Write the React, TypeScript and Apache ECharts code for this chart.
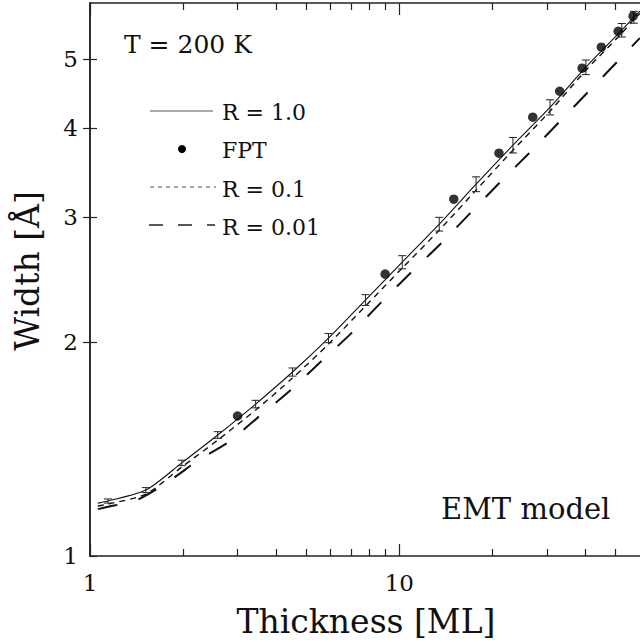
import React, { useEffect, useRef } from "react";
import * as echarts from "echarts";

// R = 1.0 model curve (thickness in ML, width in Å)
const thicknessR1 = [1.06, 1.143, 1.516, 1.98, 2.588, 3.432, 4.516, 5.902, 7.77, 10.22, 13.46, 17.71, 23.3, 30.7, 40.1, 52.4, 57.3, 60];
const widthR1 = [1.187, 1.195, 1.238, 1.352, 1.48, 1.636, 1.815, 2.026, 2.292, 2.591, 2.931, 3.336, 3.786, 4.28, 4.873, 5.494, 5.73, 5.843];
// R = 0.1 model curve
const thicknessR01 = [1.06, 1.143, 1.516, 1.98, 2.588, 3.432, 4.516, 5.902, 7.77, 10.22, 13.46, 17.71, 23.3, 30.7, 40.1, 52.4, 57.3, 60];
const widthR01 = [1.176, 1.183, 1.222, 1.334, 1.456, 1.605, 1.78, 1.987, 2.247, 2.542, 2.874, 3.272, 3.724, 4.225, 4.825, 5.44, 5.69, 5.8];
// R = 0.01 model curve
const thicknessR001 = [1.061, 1.135, 1.418, 1.785, 2.247, 2.808, 3.535, 4.418, 5.603, 6.949, 8.686, 10.85, 13.66, 16.95, 21.02, 26.27, 32.82, 40.71, 50.5, 59.9];
const widthR001 = [1.164, 1.172, 1.199, 1.271, 1.365, 1.447, 1.574, 1.707, 1.881, 2.052, 2.269, 2.5, 2.755, 3.037, 3.346, 3.688, 4.077, 4.494, 4.953, 5.354];
// R = 1.0 simulation points with error bars
const errThickness = [1.143, 1.516, 1.98, 2.588, 3.432, 4.516, 5.902, 7.77, 10.22, 13.46, 17.71, 23.3, 30.7, 40.1, 52.4, 57.3];
const errWidth = [1.195, 1.238, 1.352, 1.48, 1.636, 1.815, 2.026, 2.292, 2.591, 2.931, 3.336, 3.786, 4.28, 4.873, 5.494, 5.73];
const errSize = [0.008, 0.01, 0.012, 0.016, 0.02, 0.024, 0.03, 0.04, 0.055, 0.065, 0.08, 0.095, 0.105, 0.115, 0.12, 0.11];
// FPT points
const fptThickness = [3, 9, 15, 21, 27, 33, 39, 45, 51, 57];
const fptWidth = [1.574, 2.493, 3.178, 3.688, 4.144, 4.508, 4.858, 5.199, 5.475, 5.749];
// Ticks
const xMajorTicks = [1, 10];
const xMinorTicks = [2, 3, 4, 5, 6, 7, 8, 9, 20, 30, 40, 50];
const yTicks = [1, 2, 3, 4, 5];
const yRightTicks = [2, 3, 4, 5];
const xMax = 60;
const yMax = 6;

const FONT = "DejaVu Serif";
const INK = "#111";
const lg = (v: number) => Math.log10(v);
const fmt = (v: number) => String(Math.round(Math.pow(10, v)));

export default function App() {
  const ref = useRef<HTMLDivElement>(null);
  useEffect(() => {
    if (!ref.current) return;
    const chart = echarts.init(ref.current, undefined, { renderer: "svg" });
    const axisLine = { show: true, lineStyle: { color: "#222", width: 1.5 } };
    const noLine = { show: false };
    const tickStyle = { color: "#222", width: 1.2 };
    const xBase = {
      type: "value",
      min: 0,
      max: lg(xMax),
      splitLine: { show: false },
      gridIndex: 0,
    };
    const yBase = {
      type: "value",
      min: 0,
      max: lg(yMax),
      splitLine: { show: false },
      gridIndex: 0,
    };
    const option: any = {
      animation: false,
      backgroundColor: "#fff",
      grid: { left: 90, top: 3, width: 551, height: 553, containLabel: false },
      xAxis: [
        {
          ...xBase,
          position: "bottom",
          axisLine,
          axisTick: { show: true, inside: true, length: 12, customValues: xMajorTicks.map(lg), lineStyle: tickStyle },
          axisLabel: {
            show: true,
            customValues: xMajorTicks.map(lg),
            formatter: fmt,
            fontFamily: FONT,
            fontSize: 23,
            color: INK,
            margin: 15,
          },
        },
        {
          ...xBase,
          position: "bottom",
          axisLine: noLine,
          axisTick: { show: true, inside: true, length: 7, customValues: xMinorTicks.map(lg), lineStyle: tickStyle },
          axisLabel: { show: false },
        },
        {
          ...xBase,
          position: "top",
          axisLine,
          axisTick: { show: true, inside: true, length: 12, customValues: xMajorTicks.map(lg), lineStyle: tickStyle },
          axisLabel: { show: false },
        },
        {
          ...xBase,
          position: "top",
          axisLine: noLine,
          axisTick: { show: true, inside: true, length: 7, customValues: xMinorTicks.map(lg), lineStyle: tickStyle },
          axisLabel: { show: false },
        },
      ],
      yAxis: [
        {
          ...yBase,
          position: "left",
          axisLine,
          axisTick: { show: true, inside: true, length: 7, customValues: yTicks.map(lg), lineStyle: tickStyle },
          axisLabel: {
            show: true,
            customValues: yTicks.map(lg),
            formatter: fmt,
            fontFamily: FONT,
            fontSize: 23,
            color: INK,
            margin: 12,
          },
        },
        {
          ...yBase,
          position: "right",
          axisLine,
          axisTick: { show: true, inside: true, length: 7, customValues: yRightTicks.map(lg), lineStyle: tickStyle },
          axisLabel: { show: false },
        },
      ],
      series: [
        {
          name: "R = 1.0",
          type: "line",
          xAxisIndex: 0,
          yAxisIndex: 0,
          showSymbol: false,
          smooth: 0.25,
          data: thicknessR1.map((x, i) => [lg(x), lg(widthR1[i])]),
          lineStyle: { color: "#111", width: 1.1, type: "solid" },
          z: 3,
        },
        {
          name: "R = 0.1",
          type: "line",
          xAxisIndex: 0,
          yAxisIndex: 0,
          showSymbol: false,
          smooth: 0.25,
          data: thicknessR01.map((x, i) => [lg(x), lg(widthR01[i])]),
          lineStyle: { color: "#111", width: 1.4, type: [6, 5] },
          z: 2,
        },
        {
          name: "R = 0.01",
          type: "line",
          xAxisIndex: 0,
          yAxisIndex: 0,
          showSymbol: false,
          smooth: 0.25,
          data: thicknessR001.map((x, i) => [lg(x), lg(widthR001[i])]),
          lineStyle: { color: "#111", width: 2, type: [20, 22] },
          z: 2,
        },
        {
          name: "errors",
          type: "custom",
          xAxisIndex: 0,
          yAxisIndex: 0,
          data: errThickness.map((x, i) => [lg(x), lg(errWidth[i] - errSize[i]), lg(errWidth[i] + errSize[i])]),
          encode: { x: 0, y: [1, 2] },
          renderItem: (params: any, api: any) => {
            const x = api.value(0);
            const lo = api.coord([x, api.value(1)]);
            const hi = api.coord([x, api.value(2)]);
            const hw = 4;
            const st = { stroke: "#222", lineWidth: 1, fill: "none" };
            return {
              type: "group",
              children: [
                { type: "line", shape: { x1: lo[0], y1: lo[1], x2: hi[0], y2: hi[1] }, style: st },
                { type: "line", shape: { x1: lo[0] - hw, y1: lo[1], x2: lo[0] + hw, y2: lo[1] }, style: st },
                { type: "line", shape: { x1: hi[0] - hw, y1: hi[1], x2: hi[0] + hw, y2: hi[1] }, style: st },
              ],
            };
          },
          z: 4,
        },
        {
          name: "FPT",
          type: "scatter",
          xAxisIndex: 0,
          yAxisIndex: 0,
          symbol: "circle",
          symbolSize: 9.5,
          itemStyle: { color: "#000" },
          data: fptThickness.map((x, i) => [lg(x), lg(fptWidth[i])]),
          z: 5,
        },
      ],
      graphic: [
        { type: "text", x: 124, y: 44, style: { text: "T = 200 K", fontFamily: FONT, fontSize: 25, fill: INK, align: "left", verticalAlign: "middle" } },
        { type: "line", shape: { x1: 150, y1: 111, x2: 213, y2: 111 }, style: { stroke: "#555", lineWidth: 1 } },
        { type: "text", x: 222, y: 112, style: { text: "R = 1.0", fontFamily: FONT, fontSize: 22, fill: INK, align: "left", verticalAlign: "middle" } },
        { type: "circle", shape: { cx: 182, cy: 149, r: 4 }, style: { fill: "#000" } },
        { type: "text", x: 222, y: 150, style: { text: "FPT", fontFamily: FONT, fontSize: 22, fill: INK, align: "left", verticalAlign: "middle" } },
        { type: "line", shape: { x1: 150, y1: 187, x2: 216, y2: 187 }, style: { stroke: "#555", lineWidth: 1, lineDash: [4, 4] } },
        { type: "text", x: 222, y: 189, style: { text: "R = 0.1", fontFamily: FONT, fontSize: 22, fill: INK, align: "left", verticalAlign: "middle" } },
        { type: "line", shape: { x1: 149, y1: 225, x2: 215, y2: 225 }, style: { stroke: "#222", lineWidth: 1.3, lineDash: [14, 15] } },
        { type: "text", x: 222, y: 227, style: { text: "R = 0.01", fontFamily: FONT, fontSize: 22, fill: INK, align: "left", verticalAlign: "middle" } },
        { type: "text", x: 441, y: 509, style: { text: "EMT model", fontFamily: FONT, fontSize: 29, fill: INK, align: "left", verticalAlign: "middle" } },
        { type: "text", x: 366, y: 621, style: { text: "Thickness [ML]", fontFamily: FONT, fontSize: 33, fill: INK, align: "center", verticalAlign: "middle" } },
        { type: "text", x: 27, y: 271, rotation: Math.PI / 2, style: { text: "Width [Å]", fontFamily: FONT, fontSize: 33, fill: INK, align: "center", verticalAlign: "middle" } },
      ],
    };
    chart.setOption(option);
    return () => chart.dispose();
  }, []);
  return (
    <div
      ref={ref}
      style={{ position: "fixed", left: 0, top: 0, width: 640, height: 642, background: "#fff" }}
    />
  );
}
